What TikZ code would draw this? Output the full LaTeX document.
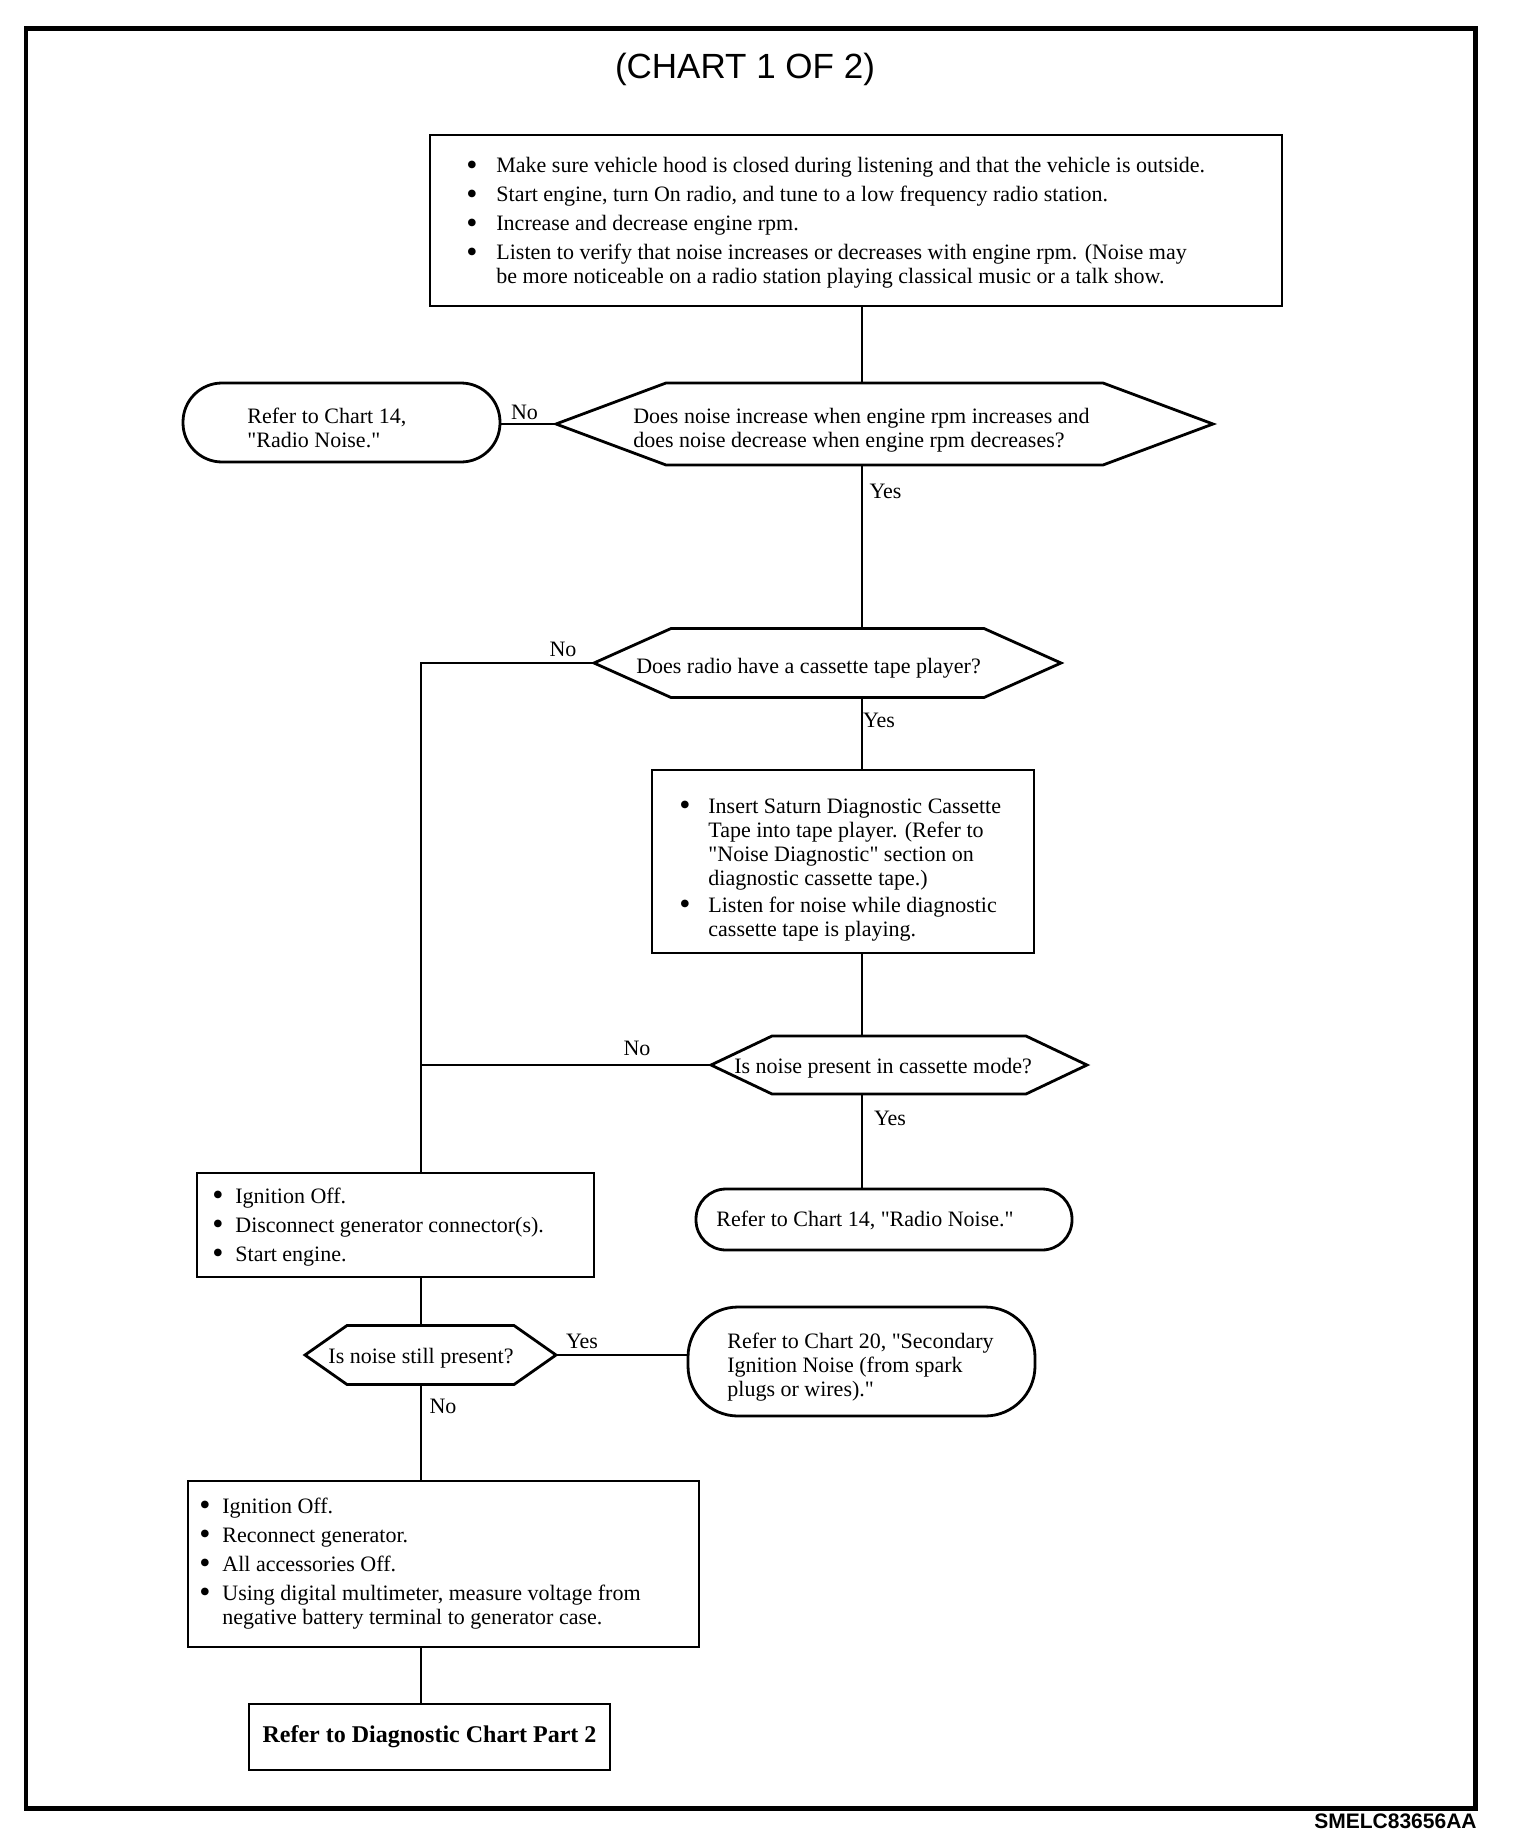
\documentclass[tikz,border=0pt]{standalone}
\usepackage{fontspec}
\setmainfont{Liberation Serif}[Ligatures=TeXOff]
\newfontfamily\titlefont{Liberation Sans}
\usetikzlibrary{calc}
\newcommand\bul[1]{\makebox[#1][l]{\raisebox{-0.1em}{\scalebox{1.45}{\textbullet}}}}
\newcommand\hexoutline[2]{%
  \draw[shapeline] (#1.west) -- ([xshift=#2]#1.north west) -- ([xshift=-#2]#1.north east)
    -- (#1.east) -- ([xshift=-#2]#1.south east) -- ([xshift=#2]#1.south west) -- cycle;}
\newcommand\TxtTop{\begin{tabular}{@{}l@{}l@{}}
\bul{15pt} & Make sure vehicle hood is closed during listening and that the vehicle is outside.\\[2.5pt]
\bul{15pt} & Start engine, turn On radio, and tune to a low frequency radio station.\\[2.5pt]
\bul{15pt} & Increase and decrease engine rpm.\\[2.5pt]
\bul{15pt} & Listen to verify that noise increases or decreases with engine rpm. (Noise may\\
 & be more noticeable on a radio station playing classical music or a talk show.
\end{tabular}}
\newcommand\TxtCas{\begin{tabular}{@{}l@{}l@{}}
\bul{14.5pt} & Insert Saturn Diagnostic Cassette\\
 & Tape into tape player. (Refer to\\
 & "Noise Diagnostic" section on\\
 & diagnostic cassette tape.)\\[1.5pt]
\bul{14.5pt} & Listen for noise while diagnostic\\
 & cassette tape is playing.
\end{tabular}}
\newcommand\TxtGen{\begin{tabular}{@{}l@{}l@{}}
\bul{11.5pt} & Ignition Off.\\[2.5pt]
\bul{11.5pt} & Disconnect generator connector(s).\\[2.5pt]
\bul{11.5pt} & Start engine.
\end{tabular}}
\newcommand\TxtMeas{\begin{tabular}{@{}l@{}l@{}}
\bul{11.5pt} & Ignition Off.\\[2.5pt]
\bul{11.5pt} & Reconnect generator.\\[2.5pt]
\bul{11.5pt} & All accessories Off.\\[2.5pt]
\bul{11.5pt} & Using digital multimeter, measure voltage from\\
 & negative battery terminal to generator case.
\end{tabular}}
\begin{document}
\begin{tikzpicture}[x=0.5pt,y=-0.5pt,
  shapeline/.style={line width=1.4pt},
  conn/.style={line width=0.6pt},
  txt/.style={font=\fontsize{11}{12}\selectfont, inner sep=0pt, align=left},
  lbl/.style={font=\fontsize{11}{12}\selectfont, inner sep=0pt},
  rectbox/.style={draw, shapeline, inner sep=0pt, outer sep=0pt},
  ovalbox/.style={draw, shapeline, inner sep=0pt, outer sep=0pt, rounded corners=#1},
  hexbox/.style={inner sep=0pt, outer sep=0pt},
]
\useasboundingbox (0,0) rectangle (1520,1846);
\draw[line width=2.3pt] (26,28.5) rectangle (1475.5,1808.5);

\node[font=\titlefont\fontsize{17.5}{20}\selectfont, anchor=base] (title) at (745,79) {(CHART 1 OF 2)};
\node[font=\titlefont\bfseries\fontsize{10.5}{12}\selectfont, anchor=base east, inner sep=0pt] (code) at (1477,1828) {SMELC83656AA};

\coordinate (spine) at (862,0);
\coordinate (lspine) at (421,0);

% top box
\node[rectbox, minimum width=426pt, minimum height=85.5pt,
  label={[txt, anchor=west, xshift=18pt, yshift=-1.55pt]west:{\TxtTop}}] (tb) at (856,220.5) {};

% decision 1
\node[hexbox, minimum width=328.5pt, minimum height=41pt,
  label={[txt, xshift=-11.5pt, yshift=-3pt]center:{Does noise increase when engine rpm increases and\\does noise decrease when engine rpm decreases?}}] (h1) at (884.5,424) {};
\hexoutline{h1}{55pt}

\node[ovalbox=19.5pt, minimum width=158.5pt, minimum height=39.5pt,
  label={[txt, anchor=west, xshift=32pt, yshift=-2.5pt]west:{Refer to Chart 14,\\"Radio Noise."}}] (o1) at (341.5,422.5) {};

% decision 2
\node[hexbox, minimum width=233.5pt, minimum height=34.5pt,
  label={[txt, xshift=-9.5pt, yshift=-2.5pt]center:{Does radio have a cassette tape player?}}] (h2) at (827.5,663) {};
\hexoutline{h2}{38.5pt}

% cassette box
\node[rectbox, minimum width=191pt, minimum height=91.5pt,
  label={[txt, anchor=west, xshift=13.5pt, yshift=-4.25pt]west:{\TxtCas}}] (b2) at (843,861.5) {};

% decision 3
\node[hexbox, minimum width=188pt, minimum height=29pt,
  label={[txt, xshift=-8pt, yshift=-1.5pt]center:{Is noise present in cassette mode?}}] (h3) at (899,1065) {};
\hexoutline{h3}{30.5pt}

\node[ovalbox=15pt, minimum width=188pt, minimum height=30.5pt,
  label={[txt, anchor=west, xshift=10pt, yshift=-0.5pt]west:{Refer to Chart 14, "Radio Noise."}}] (o2) at (884,1219.5) {};

% generator box
\node[rectbox, minimum width=198.5pt, minimum height=52pt,
  label={[txt, anchor=west, xshift=7.5pt, yshift=-1.3pt]west:{\TxtGen}}] (b3) at (395.5,1225) {};

% decision 4
\node[hexbox, minimum width=125.5pt, minimum height=29.5pt,
  label={[txt, xshift=-4.75pt, yshift=-1.5pt]center:{Is noise still present?}}] (h4) at (430.5,1355) {};
\hexoutline{h4}{21pt}

\node[ovalbox=25pt, minimum width=173.5pt, minimum height=54.5pt,
  label={[txt, anchor=west, xshift=19.5pt, yshift=-2.75pt]west:{Refer to Chart 20, "Secondary\\Ignition Noise (from spark\\plugs or wires)."}}] (o3) at (861.5,1361.5) {};

% measure box
\node[rectbox, minimum width=255.5pt, minimum height=83pt,
  label={[txt, anchor=west, xshift=5.5pt]west:{\TxtMeas}}] (b4) at (443.5,1564) {};

\node[rectbox, minimum width=180.5pt, minimum height=33pt, font=\bfseries\fontsize{12}{14}\selectfont] (b5) at (429.5,1737) {Refer to Diagnostic Chart Part 2};

% connectors
\draw[conn] (tb.south -| spine) -- (h1.north -| spine);
\draw[conn] (h1.west) -- (h1.west -| o1.east);
\draw[conn] (h1.south -| spine) -- (h2.north -| spine);
\draw[conn] (h2.west) -- (h2.west -| lspine) -- (b3.north -| lspine);
\draw[conn] (h2.south -| spine) -- (b2.north -| spine);
\draw[conn] (b2.south -| spine) -- (h3.north -| spine);
\draw[conn] (h3.west) -- (h3.west -| lspine);
\draw[conn] (h3.south -| spine) -- (o2.north -| spine);
\draw[conn] (b3.south -| lspine) -- (h4.north -| lspine);
\draw[conn] (h4.east) -- (h4.east -| o3.west);
\draw[conn] (h4.south -| lspine) -- (b4.north -| lspine);
\draw[conn] (b4.south -| lspine) -- (b5.north -| lspine);

% branch labels
\node[lbl] (no1) at (524.5,412) {No};
\node[lbl] (yes1) at (885.5,491) {Yes};
\node[lbl] (no2) at (563,649) {No};
\node[lbl] (yes2) at (879,720) {Yes};
\node[lbl] (no3) at (637,1048) {No};
\node[lbl] (yes3) at (890,1118) {Yes};
\node[lbl] (yes4) at (582,1341) {Yes};
\node[lbl] (no4) at (443,1406) {No};
\end{tikzpicture}
\end{document}
